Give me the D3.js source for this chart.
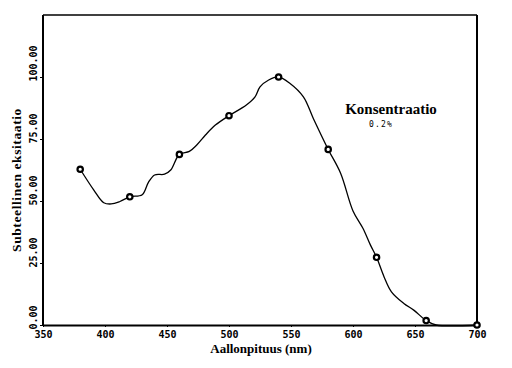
<!DOCTYPE html>
<html><head><meta charset="utf-8">
<script src="https://cdn.jsdelivr.net/npm/d3@7"></script>
<style>body{margin:0;background:#fff}svg{display:block}</style>
</head><body>
<svg id="c" width="512" height="368"></svg>
<script>
// Measured points (markers)
const markerNm  = [380, 420, 460, 500, 540, 580, 619, 659, 700];
const markerVal = [62.8, 51.7, 68.8, 84.4, 100.0, 70.8, 27.3, 1.8, 0.0];
// Curve trace
const curveNm  = [380, 391, 399, 405, 412, 420, 430, 435, 440, 448, 453, 460, 468, 474, 481, 489, 500, 514, 521, 525, 532, 540, 549, 560, 568, 580, 590, 600, 608, 614, 619, 625, 631, 641, 649, 659, 667, 700];
const curveVal = [62.8, 54.4, 49.3, 48.8, 49.8, 51.7, 52.5, 57.5, 60.5, 60.8, 62.5, 68.8, 70.0, 72.6, 76.6, 80.6, 84.4, 88.7, 92.0, 96.0, 98.8, 100.0, 97.5, 92.0, 83.3, 70.8, 61.2, 46.0, 39.0, 32.3, 27.3, 19.5, 13.4, 8.7, 6.0, 1.8, 0.0, 0.0];
const xTicks = [350, 400, 450, 500, 550, 600, 650, 700];
const yTicks = [0, 25, 50, 75, 100];
const xTitle = "Aallonpituus (nm)";
const yTitle = "Subteellinen eksitaatio";
const legendTitle = "Konsentraatio";
const legendSub = "0.2%";

const svg = d3.select("#c");
const L = 43, R = 477, T = 15, B = 325;
const x = d3.scaleLinear().domain([350, 700]).range([L, R]);
const y = d3.scaleLinear().domain([0, 125]).range([B, T]);

// frame
svg.append("line").attr("x1", L).attr("x2", R).attr("y1", T).attr("y2", T).attr("stroke", "#000").attr("stroke-width", 1.3);
svg.append("line").attr("x1", R).attr("x2", R).attr("y1", T).attr("y2", B).attr("stroke", "#000").attr("stroke-width", 2);

// x axis
const xa = svg.append("g").attr("transform", `translate(0,${B})`)
  .call(d3.axisBottom(x).tickValues(xTicks).tickSize(2).tickSizeOuter(0).tickFormat(d3.format("d")));
xa.select(".domain").attr("stroke-width", 2);
xa.selectAll("text").attr("font-family", "DejaVu Sans Mono").attr("font-weight", "bold")
  .attr("font-size", 10).attr("dy", 0).attr("y", 13);

// y axis
const ya = svg.append("g").attr("transform", `translate(${L},0)`)
  .call(d3.axisLeft(y).tickValues(yTicks).tickSize(3).tickSizeOuter(0).tickFormat(d3.format(".2f")));
ya.select(".domain").attr("stroke-width", 2).attr("d", `M0,${T}V${B}`);
ya.selectAll("text").attr("font-family", "DejaVu Sans Mono").attr("font-weight", "bold")
  .attr("font-size", 10).attr("text-anchor", "start")
  .attr("x", 0).attr("dy", 0)
  .attr("transform", "translate(-6,4) rotate(-90)");

// curve
const pts = curveNm.map((n, i) => [n, curveVal[i]]);
const line = d3.line().x(d => x(d[0])).y(d => y(d[1])).curve(d3.curveCatmullRom.alpha(0.5));
svg.append("path").attr("d", line(pts)).attr("fill", "none").attr("stroke", "#000").attr("stroke-width", 1.3);

// markers
svg.selectAll("circle.m").data(markerNm.map((n, i) => [n, markerVal[i]])).join("circle")
  .attr("cx", d => x(d[0])).attr("cy", d => y(d[1])).attr("r", 2.7)
  .attr("fill", "#fff").attr("stroke", "#000").attr("stroke-width", 2.2);

// titles
svg.append("text").attr("x", 261).attr("y", 353).attr("text-anchor", "middle")
  .attr("font-family", "Liberation Serif").attr("font-weight", "bold").attr("font-size", 13).text(xTitle);
svg.append("text").attr("transform", "translate(21,180) rotate(-90)").attr("text-anchor", "middle")
  .attr("font-family", "Liberation Serif").attr("font-weight", "bold").attr("font-size", 13.5)
  .attr("letter-spacing", 0.6).text(yTitle);

// legend text
svg.append("text").attr("x", 391).attr("y", 114).attr("text-anchor", "middle")
  .attr("font-family", "Liberation Serif").attr("font-weight", "bold").attr("font-size", 15).text(legendTitle);
svg.append("text").attr("x", 381).attr("y", 127).attr("text-anchor", "middle")
  .attr("font-family", "DejaVu Sans Mono").attr("font-size", 8).attr("letter-spacing", 1.2).text(legendSub);
</script>
</body></html>
